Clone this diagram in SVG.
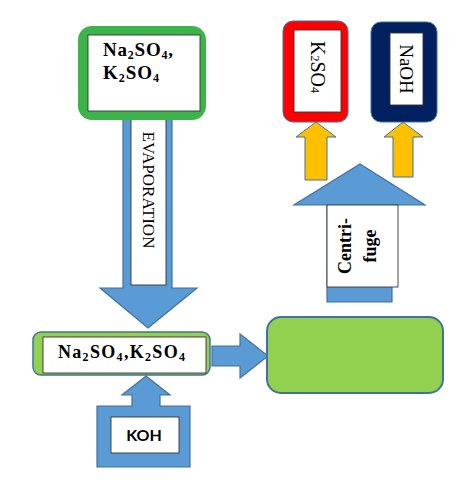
<svg xmlns="http://www.w3.org/2000/svg" width="468" height="480" viewBox="0 0 468 480">
<style>
.blue{fill:#5b9bd5;stroke:#41719c;stroke-width:1.2}
.yel{fill:#ffc000;stroke:#41719c;stroke-width:1}
.lab{fill:#fff;stroke:#333;stroke-width:0.9}
.serif{font-family:"Liberation Serif","Times New Roman",serif;fill:#000}
.b{font-weight:bold}
.sub{font-size:12px}
</style>
<rect width="468" height="480" fill="#fff"/>
<g id="connectors">
  <path id="arrow-evaporation" class="blue" d="M123,117 H172 V288 H197 L148,328 L100,288 H123 Z"/>
  <path id="arrow-right" class="blue" d="M212,346 H240 V334 L268,356 L240,378 V366 H212 Z"/>
  <path id="arrow-k2so4" class="yel" d="M305,180 V137 H296 L316,122 L336,137 H327 V180 Z"/>
  <path id="arrow-naoh" class="yel" d="M393,177 V137 H384 L403,122 L423,137 H413 V177 Z"/>
  <path id="arrow-centrifuge" class="blue" d="M327,302 V205 H294 L360,164 L425,205 H392 V302 Z"/>
</g>
<g id="label-evaporation">
  <rect class="lab" x="131" y="117" width="35" height="168"/>
  <text class="serif" font-size="17" text-anchor="middle" dominant-baseline="central" transform="translate(148,190) rotate(90)">EVAPORATION</text>
</g>
<g id="label-centrifuge">
  <rect class="lab" x="327" y="205" width="71" height="82"/>
  <text class="serif b" font-size="18" text-anchor="middle" dominant-baseline="central" transform="translate(357.5,246) rotate(-90)"><tspan x="0" y="-12.5">Centri-</tspan><tspan x="0" y="12.5">fuge</tspan></text>
</g>
<g id="node-top">
  <rect x="78" y="26" width="128" height="94" rx="14" fill="#3cb44a"/>
  <rect class="lab" x="88" y="35" width="112" height="76"/>
  <text class="serif b" font-size="19" x="103" y="56" textLength="70">Na<tspan class="sub" dy="3">2</tspan><tspan dy="-3">SO</tspan><tspan class="sub" dy="3">4</tspan><tspan dy="-3">,</tspan></text>
  <text class="serif b" font-size="19" x="103" y="79" textLength="56">K<tspan class="sub" dy="3">2</tspan><tspan dy="-3">SO</tspan><tspan class="sub" dy="3">4</tspan></text>
</g>
<g id="node-k2so4">
  <rect x="283" y="21" width="65" height="101" rx="10" fill="#ff0000" stroke="#41719c" stroke-width="1"/>
  <rect class="lab" x="294" y="30" width="47" height="82"/>
  <text class="serif" font-size="20" text-anchor="middle" dominant-baseline="central" transform="translate(318,67) rotate(90)">K<tspan class="sub" dy="3">2</tspan><tspan dy="-3">SO</tspan><tspan class="sub" dy="3">4</tspan></text>
</g>
<g id="node-naoh">
  <rect x="371" y="22" width="66" height="100" rx="10" fill="#002060" stroke="#41719c" stroke-width="1"/>
  <rect class="lab" x="390" y="33" width="33" height="72"/>
  <text class="serif" font-size="19" text-anchor="middle" dominant-baseline="central" transform="translate(406,69) rotate(90)">NaOH</text>
</g>
<g id="node-middle">
  <rect x="33" y="332" width="177" height="43" rx="8" fill="#92d050" stroke="#41719c" stroke-width="1.5"/>
  <rect class="lab" x="43" y="337" width="163" height="36"/>
  <text class="serif b" font-size="18" x="58" y="358" textLength="127">Na<tspan class="sub" dy="3">2</tspan><tspan dy="-3">SO</tspan><tspan class="sub" dy="3">4</tspan><tspan dy="-3">,K</tspan><tspan class="sub" dy="3">2</tspan><tspan dy="-3">SO</tspan><tspan class="sub" dy="3">4</tspan></text>
</g>
<g id="node-result">
  <rect x="267" y="317" width="176" height="76" rx="14" fill="#92d050" stroke="#41719c" stroke-width="2"/>
</g>
<g id="node-koh">
  <path class="blue" d="M97,406 H132 V395 H122 L146,376 L170,395 H160 V406 H190 V467 H97 Z"/>
  <rect class="lab" x="111" y="417" width="68" height="36"/>
  <text x="144" y="441" text-anchor="middle" font-family="Lato,'Liberation Sans',sans-serif" font-weight="bold" font-size="16" fill="#000">KOH</text>
</g>
</svg>
